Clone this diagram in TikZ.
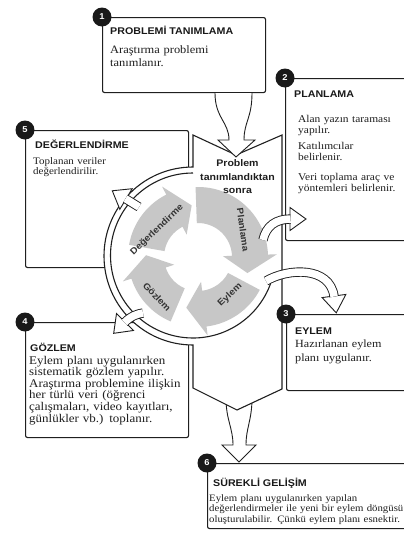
\documentclass[tikz,border=0pt]{standalone}
\usepackage{fontspec}
\setmainfont{Liberation Serif}[FakeStretch=1.1]
\newfontfamily\hsans{Liberation Sans}[FakeStretch=1.1]
\usetikzlibrary{calc}
\tikzset{
  box/.style={draw=black!88, line width=1.1pt, rounded corners=2pt, fill=white, inner sep=0pt, anchor=north west},
  num/.style={circle, fill=black!90, text=white, font=\hsans\bfseries\fontsize{8.5}{9}\selectfont, inner sep=0pt, minimum size=19pt},
  ttl/.style={anchor=base west, inner sep=0pt, font=\hsans\bfseries\fontsize{9.7}{11}\selectfont, text=black!90},
  body/.style={anchor=base west, inner sep=0pt, text width=230pt, align=left, text=black!88},
  hshaft/.style={draw=black!88, line width=0.9pt, double=white, double distance=7.5pt},
  hhead/.style={draw=black!88, line width=0.9pt, fill=white, line join=miter},
  cyc/.style={fill=black!22},
  cyclbl/.style={font=\hsans\bfseries\fontsize{9}{10}\selectfont, text=black!80, inner sep=0pt},
  outl/.style={draw=black!88, line width=1.1pt},
}
\newcommand\cycarr[3]{%
  \fill[cyc] ($(G)+(#1:70pt)$) arc[start angle=#1, end angle=#2, radius=70pt]
    -- ($(G)+(#2:79pt)$) -- ($(G)+(#3:52pt)$) -- ($(G)+(#2:25pt)$) -- ($(G)+(#2:34pt)$)
    arc[start angle=#2, end angle=#1, radius=34pt] -- cycle;}
\newcommand\hollowarr[6]{%
  \coordinate (hab) at (#4);
  \coordinate (hac) at (#3);
  \filldraw[hhead] ($(hab)!#5!90:(hac)$) -- ($(hab)!-#6!(hac)$) -- ($(hab)!#5!-90:(hac)$) -- cycle;
  \draw[hshaft] (#1) .. controls (#2) and (#3) .. ($(hab)!-0.6pt!(hac)$);}
\begin{document}
\begin{tikzpicture}[x=1pt,y=1pt]
\useasboundingbox (0,0) rectangle (404,-533);
\clip (0,0) rectangle (404,-533);
% boxes
\node[box, minimum width=163pt, minimum height=75pt] (b1) at (102,-17) {};
\node[box, minimum width=127pt, minimum height=162pt] (b2) at (285,-78) {};
\node[box, minimum width=163pt, minimum height=137pt] (b5) at (25,-130) {};
\node[box, minimum width=163pt, minimum height=115pt] (b4) at (25,-322) {};
\node[box, minimum width=126pt, minimum height=76pt] (b3) at (286,-314) {};
\node[box, minimum width=205pt, minimum height=65pt] (b6) at (207,-463) {};
% arrow from band to box 6
\filldraw[hhead] (226,-398) .. controls (226,-420) and (233,-428) .. (233,-445) -- (222,-445) -- (239,-462) -- (256,-445) -- (246,-445) .. controls (246,-428) and (252,-420) .. (252,-398);
% band and ring
\filldraw[outl, fill=white] (193,-167) arc[start angle=90, end angle=270, radius=89pt] -- (193,-388) -- (237,-410) -- (282,-389) -- (282,-135) -- (236,-155) -- (193,-135) -- cycle;
\draw[outl] (193,-173) arc[start angle=90, end angle=340, radius=82.5pt];
% cycle arrows
\coordinate (G) at (198,-257);
\cycarr{92}{2}{-18}
\cycarr{-28}{-83}{-103}
\cycarr{-113}{-162}{-182}
\cycarr{170}{117}{97}
\node[cyclbl, rotate=-82] (lp) at (243,-230) {Planlama};
\node[cyclbl, rotate=43] (le) at (230,-295) {Eylem};
\node[cyclbl, rotate=-47] (lg) at (157,-297) {Gözlem};
\node[cyclbl, rotate=44] (ld) at (157,-230) {Değerlendirme};
\node[anchor=base, inner sep=0pt, text width=90pt, align=center, font=\hsans\bfseries\fontsize{9.6}{13.3}\selectfont, text=black!88] (ct) at (237.5,-166.7) {Problem\\tanımlandıktan\\sonra};
% hollow arrows out of the ring
\hollowarr{139,-207}{134,-204}{131,-202}{126,-199}{12pt}{16pt}
\hollowarr{143,-313}{137,-314}{131,-316}{125,-322}{12pt}{16pt}
\hollowarr{263,-240}{266,-226}{276,-219}{290,-219}{11.5pt}{16pt}
\hollowarr{266,-281}{288,-268}{330,-266}{334,-296}{12pt}{17pt}
% arrow from box 1 to band
\filldraw[hhead] (215,-93) .. controls (215,-118) and (229,-122) .. (229,-140) -- (218,-140) -- (236,-157) -- (255,-140) -- (244,-140) .. controls (244,-122) and (252,-118) .. (252,-93);
% numbers
\node[num] (n1) at (b1.north west) {1};
\node[num] (n2) at (b2.north west) {2};
\node[num] (n3) at (b3.north west) {3};
\node[num] (n4) at (b4.north west) {4};
\node[num] (n5) at (b5.north west) {5};
\node[num] (n6) at (b6.north west) {6};
% texts
\node[ttl] (t1) at (110,-34) {PROBLEMİ TANIMLAMA};
\node[body, font=\fontsize{11.3}{13.5}\selectfont] (x1) at (110,-53) {Araştırma problemi\\tanımlanır.};
\node[ttl] (t2) at (294,-97) {PLANLAMA};
\node[body, font=\fontsize{10.4}{11.5}\selectfont] (x2a) at (298,-122) {Alan yazın taraması\\yapılır.};
\node[body, font=\fontsize{10.4}{11.5}\selectfont] (x2b) at (298,-149) {Katılımcılar\\belirlenir.};
\node[body, font=\fontsize{10.4}{11.5}\selectfont] (x2c) at (298,-180) {Veri toplama araç ve\\yöntemleri belirlenir.};
\node[ttl] (t5) at (35,-148) {DEĞERLENDİRME};
\node[body, font=\fontsize{10}{10.8}\selectfont] (x5) at (33,-164) {Toplanan veriler\\değerlendirilir.};
\node[ttl] (t4) at (30,-351) {GÖZLEM};
\node[body, font=\fontsize{11.8}{11.6}\selectfont] (x4) at (29,-364) {Eylem planı uygulanırken\\sistematik gözlem yapılır.\\Araştırma problemine ilişkin\\her türlü veri (öğrenci\\çalışmaları, video kayıtları,\\günlükler vb.) toplanır.};
\node[ttl] (t3) at (295,-334) {EYLEM};
\node[body, font=\fontsize{11}{14}\selectfont] (x3) at (295,-347) {Hazırlanan eylem\\planı uygulanır.};
\node[ttl] (t6) at (213,-486) {SÜREKLİ GELİŞİM};
\node[body, font=\fontsize{9.8}{10.5}\selectfont] (x6) at (209,-501) {Eylem planı uygulanırken yapılan\\değerlendirmeler ile yeni bir eylem döngüsü\\oluşturulabilir. Çünkü eylem planı esnektir.};
\end{tikzpicture}
\end{document}
